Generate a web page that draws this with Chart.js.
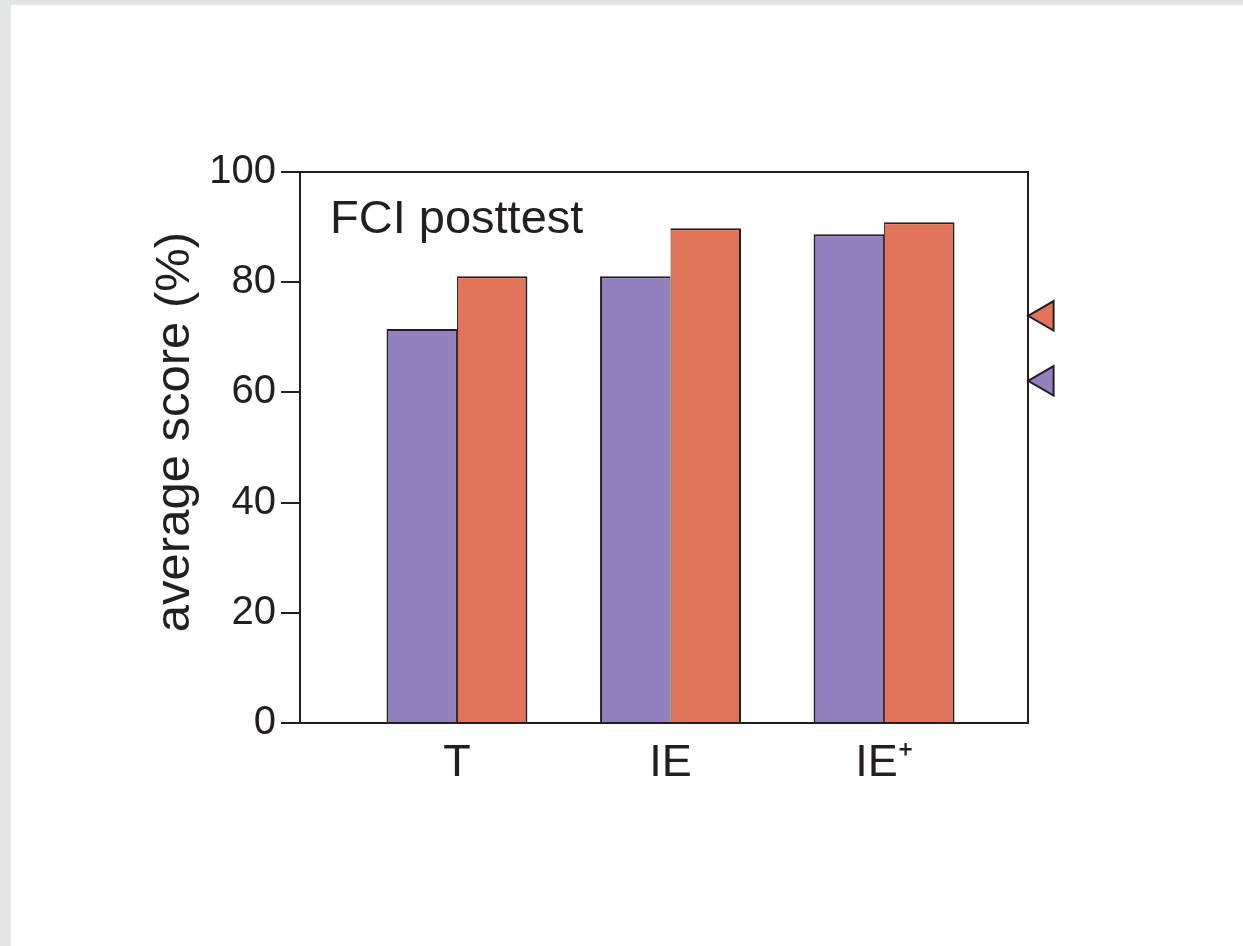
<!DOCTYPE html>
<html>
<head>
<meta charset="utf-8">
<script src="https://cdn.jsdelivr.net/npm/chart.js@4/dist/chart.umd.min.js"></script>
<style>
    body { margin: 0; background: #e3e4e6; overflow: hidden; }
    #marco { position: absolute; left: 11px; top: 5px; width: 1232px; height: 941px; background: #ffffff; }
</style>
</head>
<body>
<div id="marco"><canvas id="grafico" width="1232" height="941"></canvas></div>
<script>
// datos
const categorias = ["T", "IE", "IE\u207A"];
const puntajeMorado = [71.5, 81.1, 88.7];
const puntajeNaranja = [81.1, 89.8, 90.9];
const marcadores = [62.1, 73.9]; // morado, naranja
const ticksY = [0, 20, 40, 60, 80, 100];

const colorMorado = "#9381bd";
const colorNaranja = "#e0735a";
const colorTinta = "#231f20";
const fuente = "'Liberation Sans', Arial, Helvetica, sans-serif";

// limites del eje x (indices de categoria)
const xMin = -0.735;
const xMax = 2.674;
const xMarcador = xMax + 0.08;

// marco, texto dentro del area y titulo del eje y
const textosPlugin = {
    id: "textos",
    afterDraw(chart) {
        const { ctx, chartArea } = chart;
        ctx.save();
        ctx.strokeStyle = colorTinta;
        ctx.lineWidth = 2;
        ctx.strokeRect(chartArea.left, chartArea.top, chartArea.right - chartArea.left, chartArea.bottom - chartArea.top);

        ctx.fillStyle = colorTinta;
        ctx.font = "47px " + fuente;
        ctx.textBaseline = "alphabetic";
        ctx.textAlign = "left";
        ctx.fillText("FCI posttest", chartArea.left + 30, chartArea.top + 61);

        ctx.translate(164, 427);
        ctx.rotate(-Math.PI / 2);
        ctx.font = "49px " + fuente;
        ctx.textAlign = "center";
        ctx.textBaseline = "middle";
        ctx.fillText("average score (%)", 0, 0);
        ctx.restore();
    },
};

const ctx = document.getElementById("grafico").getContext("2d");
const grafico = new Chart(ctx, {
    type: "bar",
    data: {
        datasets: [
            {
                data: puntajeMorado.map((v, i) => ({ x: i, y: v })),
                backgroundColor: colorMorado,
                borderColor: colorTinta,
                borderWidth: { top: 2, left: 2, right: 1, bottom: 0 },
                borderSkipped: false,
            },
            {
                data: puntajeNaranja.map((v, i) => ({ x: i, y: v })),
                backgroundColor: colorNaranja,
                borderColor: colorTinta,
                borderWidth: { top: 2, left: 1, right: 2, bottom: 0 },
                borderSkipped: false,
            },
            {
                type: "scatter",
                data: [
                    { x: xMarcador, y: marcadores[1] },
                    { x: xMarcador, y: marcadores[0] },
                ],
                pointStyle: "triangle",
                rotation: -90,
                radius: 17,
                backgroundColor: [colorNaranja, colorMorado],
                borderColor: colorTinta,
                borderWidth: 2,
                clip: false,
            },
        ],
    },
    options: {
        responsive: false,
        animation: false,
        devicePixelRatio: 1,
        categoryPercentage: 0.66,
        barPercentage: 1,
        layout: { padding: { top: 167, right: 215, left: 0, bottom: 0 } },
        plugins: {
            legend: { display: false },
            tooltip: { enabled: false },
        },
        scales: {
            x: {
                type: "linear",
                min: xMin,
                max: xMax,
                offset: false,
                grid: { display: false, drawTicks: false, offset: false },
                border: { display: false },
                ticks: {
                    stepSize: 1,
                    includeBounds: false,
                    autoSkip: false,
                    maxRotation: 0,
                    padding: 14,
                    color: colorTinta,
                    font: { size: 45, family: fuente },
                    callback: (v) => (Number.isInteger(v) && categorias[v] !== undefined ? categorias[v] : ""),
                },
                afterFit: (escala) => { escala.height = 223; },
            },
            y: {
                min: 0,
                max: 100,
                grid: { drawOnChartArea: false, drawTicks: true, tickLength: 19, color: colorTinta, lineWidth: 2 },
                border: { display: true, color: colorTinta, width: 2 },
                ticks: {
                    stepSize: 20,
                    padding: 5,
                    color: colorTinta,
                    font: { size: 40, family: fuente },
                    callback: (v) => (ticksY.includes(v) ? String(v) : ""),
                },
                afterFit: (escala) => { escala.width = 289; },
            },
        },
    },
    plugins: [textosPlugin],
});
</script>
</body>
</html>
